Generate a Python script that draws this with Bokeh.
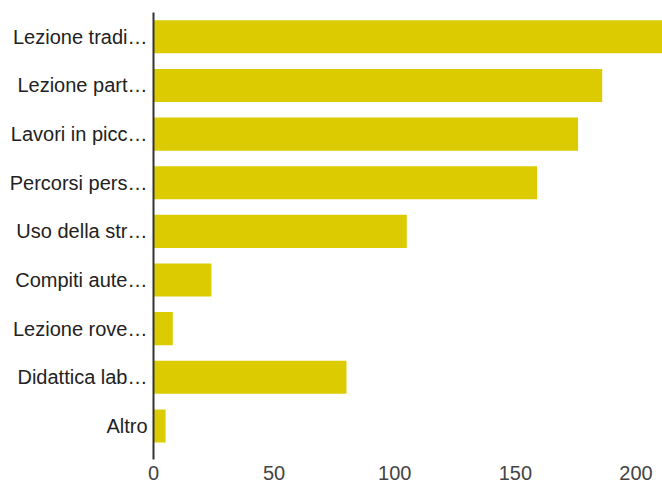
from bokeh.plotting import figure
from bokeh.models import Range1d, FixedTicker, ColumnDataSource
from bokeh.embed import file_html
from bokeh.resources import INLINE

categories = ["Lezione tradi…", "Lezione part…", "Lavori in picc…", "Percorsi pers…",
              "Uso della str…", "Compiti aute…", "Lezione rove…", "Didattica lab…", "Altro"]
values = [215, 186, 176, 159, 105, 24, 8, 80, 5]
x_ticks = [0, 50, 100, 150, 200]

positions = list(range(len(categories)))
source = ColumnDataSource(dict(y=positions, v=values))

p = figure(width=662, height=483, output_backend="svg", toolbar_location=None,
           x_range=Range1d(0, 211), y_range=Range1d(len(categories) - 0.5 + 0.19, -0.5),
           min_border_left=153, min_border_right=0, min_border_top=12, min_border_bottom=24)

p.hbar(y="y", left=0, right="v", height=0.68, source=source,
       fill_color="#dccb00", line_color=None)

p.outline_line_color = None
p.xgrid.visible = False
p.ygrid.visible = False
p.background_fill_color = "white"

ya = p.yaxis[0]
ya.ticker = FixedTicker(ticks=positions)
ya.major_label_overrides = {i: c for i, c in zip(positions, categories)}
ya.axis_line_color = "#333333"
ya.axis_line_width = 2
ya.major_tick_line_color = None
ya.minor_tick_line_color = None
ya.major_tick_out = 0
ya.major_label_standoff = 6
ya.major_label_text_font = "Liberation Sans"
ya.major_label_text_font_size = "20px"
ya.major_label_text_color = "#222222"

xa = p.xaxis[0]
xa.ticker = FixedTicker(ticks=x_ticks)
xa.axis_line_color = None
xa.major_tick_line_color = None
xa.minor_tick_line_color = None
xa.major_tick_out = 0
xa.major_label_standoff = 6
xa.major_label_text_font = "Liberation Sans"
xa.major_label_text_font_size = "20px"
xa.major_label_text_color = "#444444"

open("out.html", "w").write(file_html(p, INLINE))
